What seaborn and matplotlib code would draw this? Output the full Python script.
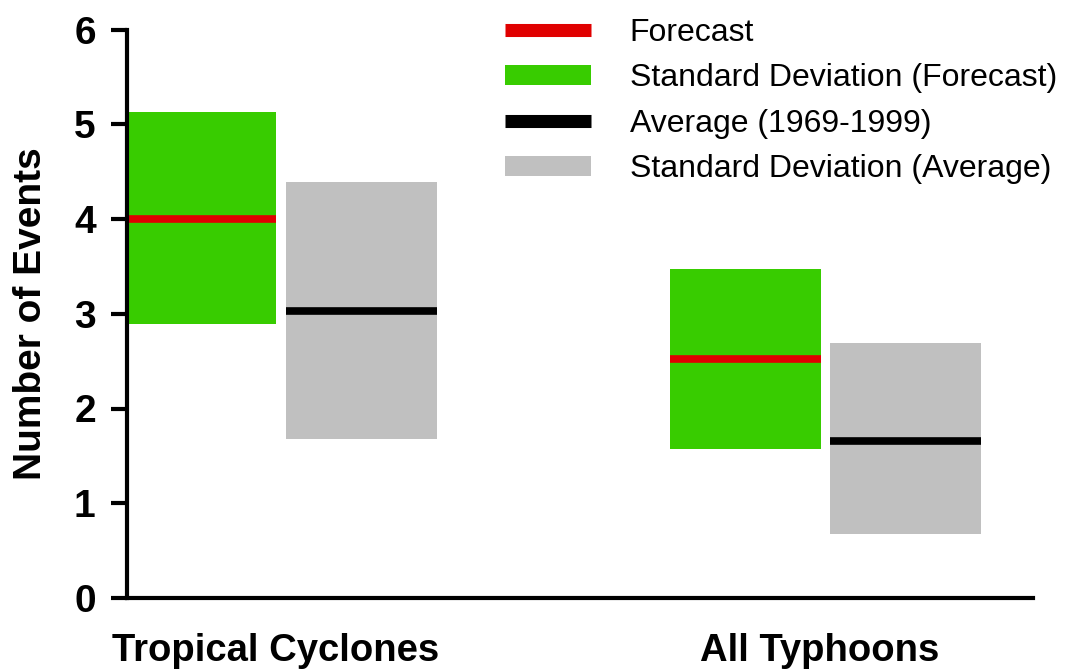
import matplotlib
matplotlib.use("Agg")
import matplotlib.pyplot as plt
from matplotlib.lines import Line2D
from matplotlib.patches import Patch
import seaborn as sns
import numpy as np

# ---- data ----
categories = ["Tropical Cyclones", "All Typhoons"]
forecast = [4.0, 2.52]
forecast_sd_low = [2.89, 1.57]
forecast_sd_high = [5.13, 3.47]
average = [3.03, 1.66]
average_sd_low = [1.68, 0.68]
average_sd_high = [4.39, 2.69]
yticks = [0, 1, 2, 3, 4, 5, 6]

GREEN = "#38CC00"
RED = "#E00000"
GRAY = "#C0C0C0"
BLACK = "#000000"

sns.set_style("ticks")
plt.rcParams["font.family"] = ["Liberation Sans", "DejaVu Sans"]
plt.rcParams["text.color"] = "black"
plt.rcParams["axes.labelcolor"] = "black"

fig = plt.figure(figsize=(10.69, 6.70), dpi=100)
ax = fig.add_axes([127 / 1069, 1 - 598 / 670, (1033 - 127) / 1069, (598 - 29.5) / 670])

x = np.arange(len(categories))
w = 0.277
g = 0.009

# SD boxes
ax.bar(x - g - w, np.array(forecast_sd_high) - np.array(forecast_sd_low),
       bottom=forecast_sd_low, width=w, align="edge", color=GREEN, linewidth=0)
ax.bar(x + g, np.array(average_sd_high) - np.array(average_sd_low),
       bottom=average_sd_low, width=w, align="edge", color=GRAY, linewidth=0)

# mean lines
ax.hlines(forecast, x - g - w, x - g, colors=RED, linewidth=5.5)
ax.hlines(average, x + g, x + g + w, colors=BLACK, linewidth=5.5)

ax.set_xlim(-0.283, 1.381)
ax.set_ylim(0, 6)
ax.set_yticks(yticks)
ax.set_xticks(x - 0.01)
ax.set_xticklabels(categories)

for s in ["top", "right"]:
    ax.spines[s].set_visible(False)
for s in ["left", "bottom"]:
    ax.spines[s].set_linewidth(3)
    ax.spines[s].set_color("black")

ax.tick_params(axis="y", direction="out", length=11.5, width=3, pad=11,
               labelsize=28, colors="black")
ax.tick_params(axis="x", length=0, pad=25, labelsize=27.5, colors="black")
for lab in ax.get_xticklabels() + ax.get_yticklabels():
    lab.set_fontweight("bold")

ax.set_ylabel("Number of Events", fontsize=28, fontweight="bold", labelpad=18,
              color="black")

handles = [
    Line2D([0], [0], color=RED, linewidth=9.4, solid_capstyle="butt"),
    Patch(facecolor=GREEN, linewidth=0),
    Line2D([0], [0], color=BLACK, linewidth=9.4, solid_capstyle="butt"),
    Patch(facecolor=GRAY, linewidth=0),
]
labels = ["Forecast", "Standard Deviation (Forecast)",
          "Average (1969-1999)", "Standard Deviation (Average)"]
leg = fig.legend(handles, labels, loc="upper left",
                 bbox_to_anchor=(505 / 1069, 1 - 18 / 670),
                 frameon=False, fontsize=23, handlelength=2.7, handletextpad=1.2,
                 labelspacing=0.48, borderpad=0, borderaxespad=0, handleheight=0.6)
for t in leg.get_texts():
    t.set_color("black")

fig.savefig("out.png", dpi=100)
